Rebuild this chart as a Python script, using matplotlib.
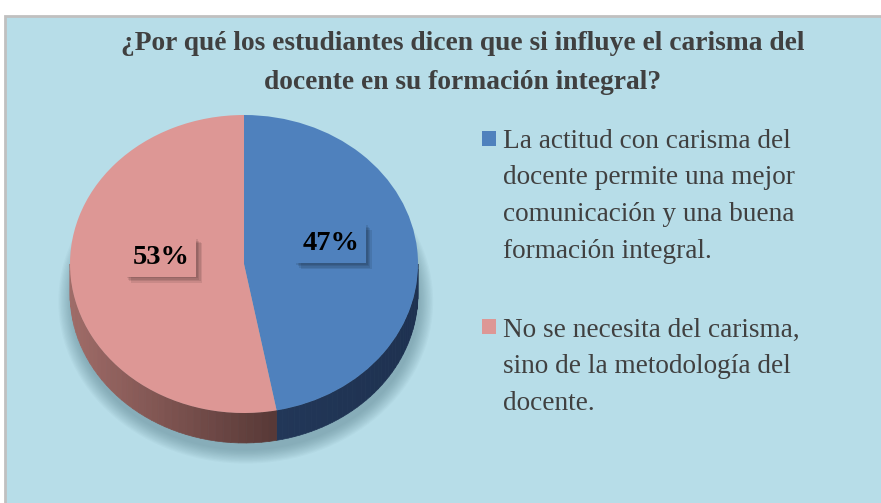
import numpy as np
import matplotlib.pyplot as plt
import matplotlib.patheffects as pe
from matplotlib.patches import Polygon, Rectangle, Ellipse
from matplotlib.colors import to_rgb

# ---- data -------------------------------------------------------------
title = ("¿Por qué los estudiantes dicen que si influye el carisma del\n"
         "docente en su formación integral?")
labels = ["La actitud con carisma del\ndocente permite una mejor\n"
          "comunicación y una buena\nformación integral.",
          "No se necesita del carisma,\nsino de la metodología del\ndocente."]
values = [47, 53]
pct_labels = ["47%", "53%"]

# ---- style ------------------------------------------------------------
colors = ["#4f81bd", "#dd9795"]
side_light = ["#223758", "#a06c68"]
side_dark = ["#1e3150", "#573836"]
bg = "#b7dde8"
txt = "#404040"

W, H = 881, 503
cx, cy = 244, 264       # pie centre in pixels (from top)
rx, ry = 174, 149       # ellipse radii in pixels
depth = 30 / ry         # thickness in pie units

plt.rcParams['font.family'] = ['Liberation Serif', 'DejaVu Serif']

fig = plt.figure(figsize=(W / 100, H / 100), dpi=100, facecolor='white')
fig.add_artist(Rectangle((5 / W, -0.02), 1.0, 1 - 16 / H + 0.02,
                         transform=fig.transFigure, fc=bg, ec='#c0c0c0',
                         lw=2, zorder=0))

ax = fig.add_axes([0, 0, 1, 1])
ax.set_facecolor('none')

wedges, _ = ax.pie(values, colors=colors, startangle=90, counterclock=False,
                   wedgeprops=dict(linewidth=0, zorder=3))
ax.set_aspect('auto')
ax.set_xlim(-cx / rx, (W - cx) / rx)
ax.set_ylim(-(H - cy) / ry, cy / ry)
ax.axis('off')

# soft shadow under the pie
for k in range(12):
    ax.add_patch(Ellipse((0.01, -depth - 0.05), 2.0 + 0.014 * k, 2.0 + 0.016 * k,
                         fc='#4d7480', ec='none', alpha=0.045, zorder=1))

# pie sides (front half only)
edges = 90 - 360 * np.cumsum([0] + values) / sum(values)
for i in range(len(values)):
    lo = max(edges[i + 1], -180)
    hi = min(edges[i], 0)
    if lo >= hi:
        continue
    n = 40
    th = np.radians(np.linspace(lo, hi, n + 1))
    c0, c1 = np.array(to_rgb(side_light[i])), np.array(to_rgb(side_dark[i]))
    xmin, xmax = np.cos(th).min(), np.cos(th).max()
    for j in range(n):
        a = th[j:j + 2]
        px = np.cos(a)
        py = np.sin(a)
        pts = np.column_stack([np.r_[px, px[::-1]], np.r_[py, py[::-1] - depth]])
        f = (px.mean() - xmin) / (xmax - xmin) if xmax > xmin else 0
        col = c0 + (c1 - c0) * f
        ax.add_patch(Polygon(pts, closed=True, fc=col, ec=col, lw=0.5, zorder=2))

# percentage labels in boxes, with a soft drop shadow
shadow = [pe.SimplePatchShadow(offset=(s, -s), shadow_rgbFace='black', alpha=0.09)
          for s in (1, 2, 3, 4)]
for w, lab, col in zip(wedges, pct_labels, colors):
    mid = np.radians((w.theta1 + w.theta2) / 2)
    t = ax.text(0.49 * np.cos(mid) + 0.01, 0.49 * np.sin(mid) + 0.09, lab,
                ha='center', va='center', fontsize=20.5, fontweight='bold',
                color='black', zorder=5,
                bbox=dict(boxstyle='square,pad=0.25', fc=col, ec='none'))
    t.get_bbox_patch().set_path_effects(shadow + [pe.Normal()])

# title (anchored on the baseline of its last line)
fig.text(463 / W, 1 - 89 / H, title, ha='center', va='baseline',
         multialignment='center', fontsize=19.8, fontweight='bold',
         color=txt, linespacing=1.72)

# legend (anchored on the baseline of each label's last line)
leg_top = [131, 319]
leg_last = [258, 410]
for lab, col, yt, yb in zip(labels, colors, leg_top, leg_last):
    fig.add_artist(Rectangle((482 / W, 1 - (yt + 15) / H), 14 / W, 15 / H,
                             transform=fig.transFigure, fc=col, ec='none'))
    fig.text(503 / W, 1 - yb / H, lab, ha='left', va='baseline',
             fontsize=19.6, color=txt, linespacing=1.62)

fig.savefig('out.png', dpi=100, facecolor=fig.get_facecolor())
